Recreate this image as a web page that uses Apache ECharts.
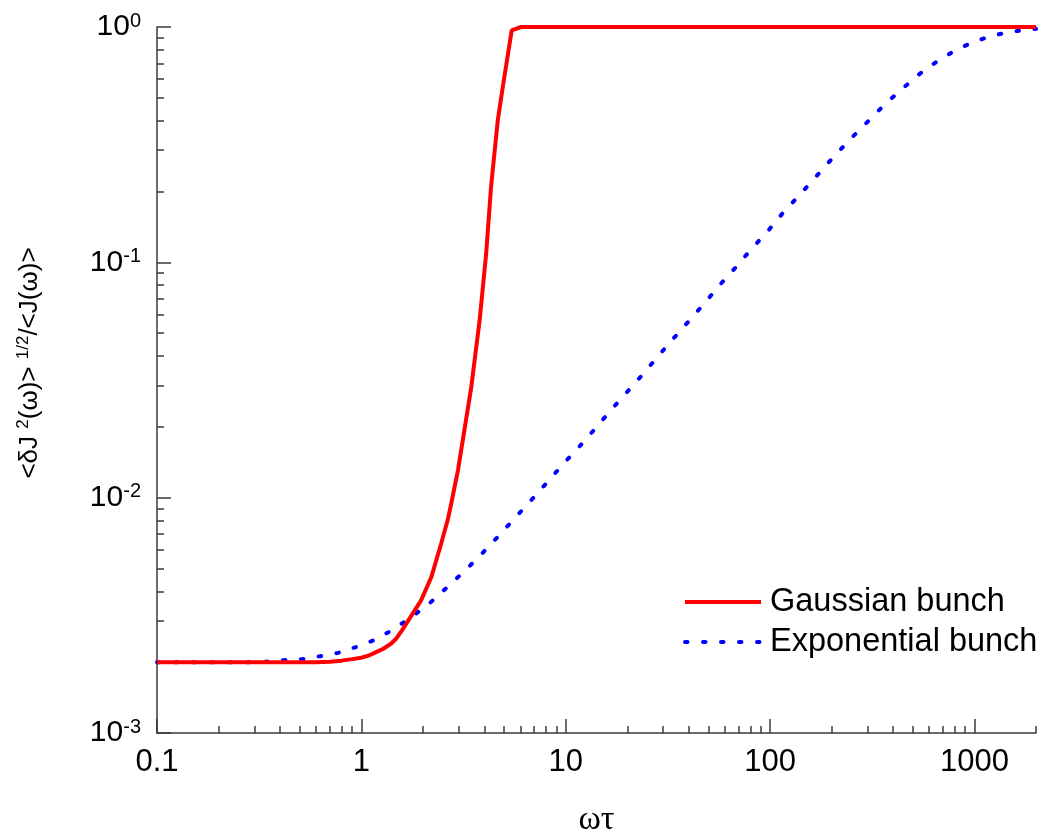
<!DOCTYPE html>
<html>
<head>
<meta charset="utf-8">
<script src="https://cdn.jsdelivr.net/npm/echarts@6/dist/echarts.min.js"></script>
<style>
html,body{margin:0;padding:0;background:#fff;}
#chart{width:1042px;height:839px;}
</style>
</head>
<body>
<div id="chart"></div>
<script>
// ---- data ----
var gaussX = [0.1, 0.2, 0.3, 0.4, 0.5, 0.6, 0.7, 0.8, 0.9, 1.0, 1.08, 1.16, 1.28, 1.4, 1.48, 1.58, 1.72, 1.96, 2.2, 2.46, 2.65, 2.75, 2.97, 3.2, 3.45, 3.79, 4.08, 4.31, 4.65, 4.92, 5.44, 6.05, 2000];
var gaussY = [0.002, 0.002, 0.002, 0.002, 0.002, 0.002, 0.00201, 0.00203, 0.00206, 0.00209, 0.00213, 0.00219, 0.00228, 0.0024, 0.00252, 0.00273, 0.00306, 0.00366, 0.0046, 0.0064, 0.0081, 0.0094, 0.0131, 0.0196, 0.0295, 0.0567, 0.109, 0.209, 0.401, 0.556, 0.968, 1.0, 1.0];

var expX = [0.1, 0.2, 0.3, 0.342, 0.419, 0.513, 0.626, 0.769, 0.942, 1.153, 1.41, 1.73, 2.12, 2.58, 3.16, 3.86, 4.67, 5.62, 6.77, 8.10, 9.72, 11.67, 13.9, 16.6, 19.8, 23.8, 28.3, 33.6, 40.2, 48.0, 56.9, 68.4, 81, 97.7, 116, 140, 167.5, 201, 243, 297, 363, 445, 544, 667, 816, 1000, 1224, 1497, 1834, 2000];
var expY = [0.002, 0.002, 0.002, 0.00201, 0.00204, 0.00206, 0.00212, 0.00219, 0.00232, 0.00248, 0.00273, 0.00308, 0.00351, 0.0041, 0.00483, 0.00574, 0.00684, 0.00817, 0.00975, 0.0116, 0.0139, 0.0165, 0.0196, 0.0235, 0.0279, 0.0334, 0.0399, 0.0474, 0.0565, 0.0674, 0.0804, 0.0959, 0.114, 0.136, 0.163, 0.194, 0.231, 0.276, 0.329, 0.392, 0.468, 0.548, 0.636, 0.721, 0.801, 0.867, 0.919, 0.953, 0.975, 0.982];

var seriesNames = ['Gaussian bunch', 'Exponential bunch'];
var xMajorTicks = [0.1, 1, 10, 100, 1000];
var xMinorTicks = [0.2,0.3,0.4,0.5,0.6,0.7,0.8,0.9, 2,3,4,5,6,7,8,9, 20,30,40,50,60,70,80,90, 200,300,400,500,600,700,800,900, 2000];
var yMajorTicks = [0.001, 0.01, 0.1, 1];
var yMinorTicks = [0.002,0.003,0.004,0.005,0.006,0.007,0.008,0.009, 0.02,0.03,0.04,0.05,0.06,0.07,0.08,0.09, 0.2,0.3,0.4,0.5,0.6,0.7,0.8,0.9];
var xLabels = ['0.1', '1', '10', '100', '1000'];
var xTitle = 'ωτ';

function zip(xs, ys) { return xs.map(function (x, i) { return [x, ys[i]]; }); }

var FONT = '"Liberation Sans", Arial, sans-serif';
var AXIS_COLOR = '#3a3a3a';

var chart = echarts.init(document.getElementById('chart'), null, {renderer: 'canvas'});

var option = {
  backgroundColor: '#ffffff',
  animation: false,
  grid: {left: 157, right: 6, top: 27, bottom: 106, containLabel: false, outerBoundsMode: 'none'},
  legend: {
    orient: 'vertical',
    left: 683,
    top: 582,
    padding: 0,
    itemGap: 0,
    itemWidth: 76,
    itemHeight: 14,
    data: seriesNames,
    itemStyle: {opacity: 0},
    lineStyle: {width: 4},
    textStyle: {fontFamily: FONT, fontSize: 32.5, color: '#000', lineHeight: 40, padding: [0, 0, 0, 4]}
  },
  xAxis: [{
    type: 'log',
    min: 0.1,
    max: 2000,
    logBase: 10,
    position: 'bottom',
    name: xTitle,
    nameLocation: 'middle',
    nameGap: 70,
    nameTextStyle: {fontFamily: '"Liberation Serif", "Times New Roman", serif', fontSize: 34, color: '#000'},
    axisLine: {show: true, lineStyle: {color: AXIS_COLOR, width: 1.5}},
    axisTick: {show: true, inside: true, length: 14, customValues: xMajorTicks, lineStyle: {color: AXIS_COLOR, width: 1.5}},
    axisLabel: {
      show: true, customValues: xMajorTicks, margin: 14,
      fontFamily: FONT, fontSize: 31, color: '#000',
      formatter: function (v) {
        var i = xMajorTicks.findIndex(function (t) { return Math.abs(Math.log10(t) - Math.log10(v)) < 1e-6; });
        return i >= 0 ? xLabels[i] : '';
      }
    },
    splitLine: {show: false},
    minorTick: {show: false},
    minorSplitLine: {show: false}
  }, {
    type: 'log',
    min: 0.1,
    max: 2000,
    logBase: 10,
    position: 'bottom',
    axisLine: {show: false},
    axisTick: {show: true, inside: true, length: 7, customValues: xMinorTicks, lineStyle: {color: AXIS_COLOR, width: 1.5}},
    axisLabel: {show: false},
    splitLine: {show: false}
  }],
  yAxis: [{
    type: 'log',
    min: 0.001,
    max: 1,
    logBase: 10,
    position: 'left',
    name: '{n|<δJ }{s|2}{n|(ω)> }{s|1/2}{n|/<J(ω)>}',
    nameLocation: 'middle',
    nameGap: 112,
    nameRotate: 90,
    nameTextStyle: {
      fontFamily: FONT, color: '#000', padding: [0, 0, 0, 34],
      rich: {
        n: {fontFamily: FONT, fontSize: 26, color: '#000', lineHeight: 30},
        s: {fontFamily: FONT, fontSize: 17, color: '#000', verticalAlign: 'top', lineHeight: 18, padding: [0, 0, 8, 0]}
      }
    },
    axisLine: {show: true, lineStyle: {color: AXIS_COLOR, width: 1.5}},
    axisTick: {show: true, inside: true, length: 14, customValues: yMajorTicks, lineStyle: {color: AXIS_COLOR, width: 1.5}},
    axisLabel: {
      show: true, customValues: yMajorTicks, margin: 16,
      formatter: function (v) {
        var e = Math.round(Math.log10(v));
        return '{b|10}{s|' + e + '}';
      },
      rich: {
        b: {fontFamily: FONT, fontSize: 30, color: '#000', lineHeight: 32},
        s: {fontFamily: FONT, fontSize: 20, color: '#000', lineHeight: 20, verticalAlign: 'top', padding: [0, 0, 14, 0]}
      }
    },
    splitLine: {show: false}
  }, {
    type: 'log',
    min: 0.001,
    max: 1,
    logBase: 10,
    position: 'left',
    axisLine: {show: false},
    axisTick: {show: true, inside: true, length: 7, customValues: yMinorTicks, lineStyle: {color: AXIS_COLOR, width: 1.5}},
    axisLabel: {show: false},
    splitLine: {show: false}
  }],
  series: [{
    name: seriesNames[0],
    type: 'line',
    xAxisIndex: 0, yAxisIndex: 0,
    data: zip(gaussX, gaussY),
    symbol: 'none',
    smooth: false,
    lineStyle: {color: '#ff0000', width: 4},
    itemStyle: {color: '#ff0000'},
    z: 3
  }, {
    name: seriesNames[1],
    type: 'line',
    xAxisIndex: 0, yAxisIndex: 0,
    data: zip(expX, expY),
    symbol: 'none',
    smooth: false,
    lineStyle: {color: '#0000ff', width: 4, type: [2.5, 15.5], cap: 'round'},
    itemStyle: {color: '#0000ff'},
    z: 2
  }]
};
chart.setOption(option);
</script>
</body>
</html>
